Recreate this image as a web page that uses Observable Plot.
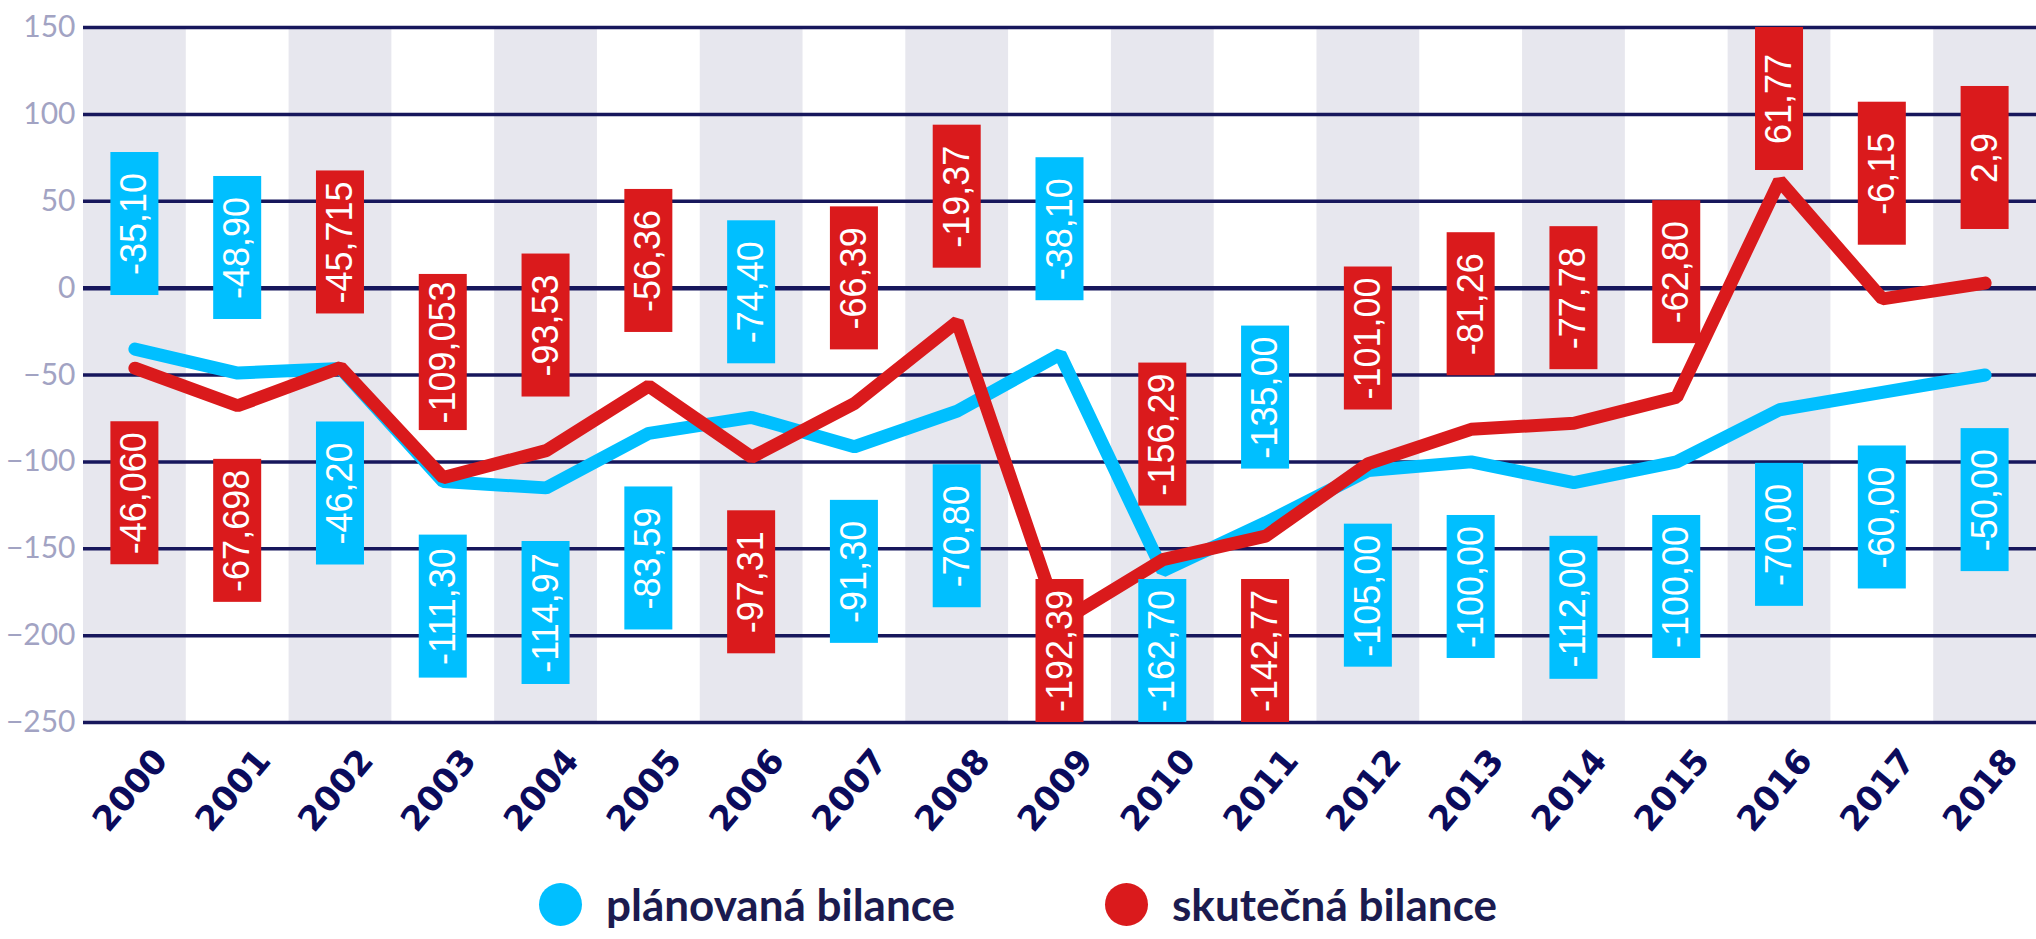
<!DOCTYPE html>
<html>
<head>
<meta charset="utf-8">
<script src="https://cdn.jsdelivr.net/npm/d3@7"></script>
<script src="https://cdn.jsdelivr.net/npm/@observablehq/plot@0.6"></script>
<style>
  html, body { margin: 0; padding: 0; background: #ffffff; overflow: hidden; }
  #chart svg { display: block; }
  #legend { display: flex; justify-content: center; align-items: center; gap: 150px; height: 88px;
            font-family: Lato, "Open Sans", sans-serif; font-weight: 700; font-size: 44px; line-height: 48px; color: #1b1b4f; }
  #legend .item { display: flex; align-items: center; gap: 24px; white-space: nowrap; }
  #legend .dot { width: 43px; height: 43px; border-radius: 50%; display: inline-block; }
</style>
</head>
<body>
<div id="chart"></div>
<div id="legend"></div>
<script>
// ---- data ----
const years = [2000, 2001, 2002, 2003, 2004, 2005, 2006, 2007, 2008, 2009,
               2010, 2011, 2012, 2013, 2014, 2015, 2016, 2017, 2018];
const plannedLabels = ["-35,10", "-48,90", "-46,20", "-111,30", "-114,97", "-83,59", "-74,40", "-91,30", "-70,80", "-38,10",
                       "-162,70", "-135,00", "-105,00", "-100,00", "-112,00", "-100,00", "-70,00", "-60,00", "-50,00"];
const actualLabels = ["-46,060", "-67,698", "-45,715", "-109,053", "-93,53", "-56,36", "-97,31", "-66,39", "-19,37", "-192,39",
                      "-156,29", "-142,77", "-101,00", "-81,26", "-77,78", "-62,80", "61,77", "-6,15", "2,9"];
const yTicks = [-250, -200, -150, -100, -50, 0, 50, 100, 150];
const seriesNames = ["plánovaná bilance", "skutečná bilance"];

const toNum = s => +s.replace(",", ".");
const planned = plannedLabels.map(toNum);
const actual = actualLabels.map(toNum);

// ---- styling / layout ----
const BLUE = "#00bfff", RED = "#da1a1c", NAVY = "#17175c";
const W = 2036, H = 860, MT = 27, MB = 138, ML = 83, MR = 0;
const yMin = -250, yMax = 150;
const unitsPerPx = (yMax - yMin) / (H - MT - MB);
const labelFont = "36px 'Liberation Sans', Arial, sans-serif";
const ctx = document.createElement("canvas").getContext("2d");
ctx.font = labelFont;

const rows = years.map((year, i) => ({year, planned: planned[i], actual: actual[i]}));

const offset = 72; // distance (data units) from the point to the label centre
const labels = [];
years.forEach((year, i) => {
  const p = planned[i], a = actual[i];
  const items = [
    {value: p, text: plannedLabels[i], fill: BLUE},
    {value: a, text: actualLabels[i], fill: RED}
  ];
  const hi = a >= p ? 1 : 0;
  items.forEach((it, k) => {
    const hpx = Math.max(143, ctx.measureText(it.text).width + 14);
    const half = hpx * unitsPerPx / 2;
    let c = k === hi ? it.value + offset : it.value - offset;
    c = Math.max(yMin + half, Math.min(yMax - half, c));
    labels.push({year, text: it.text, fill: it.fill, center: c, y1: c - half, y2: c + half});
  });
});
const halfBox = 0.2335;

const chart = Plot.plot({
  width: W, height: H,
  marginTop: MT, marginBottom: MB, marginLeft: ML, marginRight: MR,
  x: {domain: [years[0] - 0.5, years[years.length - 1] + 0.5], axis: null},
  y: {domain: [yMin, yMax], axis: null},
  style: {background: "#ffffff", fontFamily: "Lato, 'Open Sans', sans-serif"},
  marks: [
    Plot.rect(years.filter((d, i) => i % 2 === 0), {
      x1: d => d - 0.5, x2: d => d + 0.5, y1: yMin, y2: yMax, fill: "#e7e7ee"
    }),
    Plot.ruleY(yTicks, {stroke: NAVY, strokeWidth: d => d === 0 ? 4.5 : 3.5}),
    Plot.axisY({ticks: yTicks, tickSize: 0, tickPadding: 8, fontSize: 30, fill: "#a2a3c3", label: null,
                fontFamily: "Lato, 'Open Sans', sans-serif"}),
    Plot.line(rows, {x: "year", y: "planned", stroke: BLUE, strokeWidth: 13, strokeLinejoin: "miter"}),
    Plot.line(rows, {x: "year", y: "actual", stroke: RED, strokeWidth: 13, strokeLinejoin: "miter"}),
    Plot.rect(labels, {x1: d => d.year - halfBox, x2: d => d.year + halfBox, y1: "y1", y2: "y2", fill: "fill"}),
    Plot.text(labels, {x: "year", y: "center", text: "text", rotate: -90, fill: "white",
                       fontSize: 36, fontFamily: "'Liberation Sans', Arial, sans-serif"}),
    Plot.text(years, {x: d => d, frameAnchor: "bottom", dy: 75, dx: 4, rotate: -50, text: d => String(d),
                      fontSize: 34, fontWeight: "bold", fill: "#0b0b5c", fontFamily: "'DejaVu Sans', sans-serif"})
  ]
});
document.getElementById("chart").append(chart);

const legend = document.getElementById("legend");
[[seriesNames[0], BLUE], [seriesNames[1], RED]].forEach(([name, color]) => {
  const item = document.createElement("span");
  item.className = "item";
  const dot = document.createElement("span");
  dot.className = "dot";
  dot.style.background = color;
  item.append(dot, document.createTextNode(name));
  legend.append(item);
});
</script>
</body>
</html>
